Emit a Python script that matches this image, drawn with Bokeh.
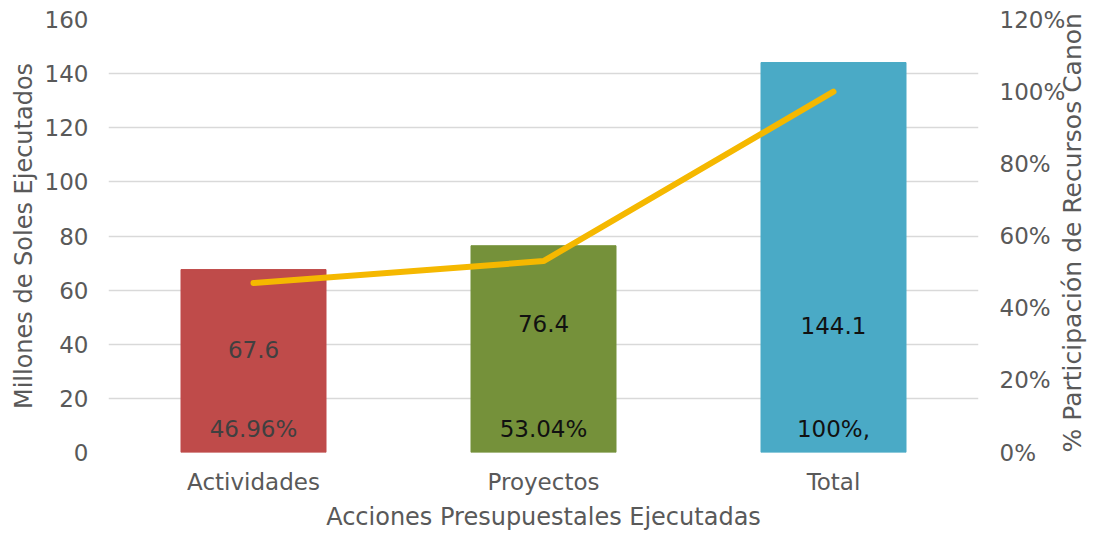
import math
from bokeh.plotting import figure
from bokeh.models import (Range1d, LinearAxis, FactorRange, ColumnDataSource,
                          FixedTicker, NumeralTickFormatter)
from bokeh.core.properties import value
from bokeh.embed import file_html
from bokeh.resources import INLINE

# ---- data ----
categories = ["Actividades", "Proyectos", "Total"]
soles = [67.6, 76.4, 144.1]
participacion = [0.4696, 0.5304, 1.0]
value_labels = ["67.6", "76.4", "144.1"]
pct_labels = ["46.96%", "53.04%", "100%,"]
bar_colors = ["#bf4b4a", "#75913a", "#4aaac6"]
label_colors = ["#404040", "#111111", "#111111"]

FONT = "DejaVu Sans"
TICK_COLOR = "#595959"

p = figure(x_range=FactorRange(*categories), y_range=Range1d(0, 160),
           width=1104, height=533, output_backend="svg", toolbar_location=None,
           min_border_left=108, min_border_right=126, min_border_top=19,
           min_border_bottom=77)
p.outline_line_color = None
p.background_fill_color = "white"

p.extra_y_ranges = {"pct": Range1d(0, 1.2)}

src = ColumnDataSource(dict(cat=categories, soles=soles, pct=participacion,
                            vl=value_labels, pl=pct_labels, color=bar_colors,
                            lc=label_colors,
                            vy=[38, 47.5, 47], py=[8.8, 8.8, 8.8]))

p.vbar(x="cat", top="soles", width=0.5, color="color", source=src)
p.line(x="cat", y="pct", y_range_name="pct", line_color="#f5b800",
       line_width=6, line_cap="round", source=src)

p.text(x="cat", y="vy", text="vl", text_color="lc", text_align="center",
       text_baseline="middle", text_font=value(FONT), text_font_size="23px",
       source=src)
p.text(x="cat", y="py", text="pl", text_color="lc", text_align="center",
       text_baseline="middle", text_font=value(FONT), text_font_size="23px",
       source=src)

# grid
p.xgrid.grid_line_color = None
p.ygrid.grid_line_color = "#d9d9d9"
p.ygrid.grid_line_width = 1.5
p.yaxis.ticker = FixedTicker(ticks=[0, 20, 40, 60, 80, 100, 120, 140, 160])

# left axis
yax = p.yaxis[0]
yax.axis_label = "Millones de Soles Ejecutados"
yax.axis_label_text_font = FONT
yax.axis_label_text_font_style = "normal"
yax.axis_label_text_font_size = "24px"
yax.axis_label_text_color = TICK_COLOR
yax.axis_label_standoff = 4
yax.major_label_text_font = FONT
yax.major_label_text_font_size = "23px"
yax.major_label_text_color = TICK_COLOR
yax.major_label_standoff = 14
yax.axis_line_color = None
yax.major_tick_line_color = None
yax.minor_tick_line_color = None

# right axis
rax = LinearAxis(y_range_name="pct",
                 ticker=FixedTicker(ticks=[0, 0.2, 0.4, 0.6, 0.8, 1.0, 1.2]),
                 formatter=NumeralTickFormatter(format="0%"))
rax.major_label_text_font = FONT
rax.major_label_text_font_size = "23px"
rax.major_label_text_color = TICK_COLOR
rax.major_label_standoff = 15
rax.axis_line_color = None
rax.major_tick_line_color = None
rax.minor_tick_line_color = None
rax.axis_label = "% Participación de Recursos Canon"
rax.axis_label_text_font = FONT
rax.axis_label_text_font_style = "normal"
rax.axis_label_text_font_size = "25px"
rax.axis_label_text_color = TICK_COLOR
rax.axis_label_standoff = 4
# reads bottom-to-top, starting at the bottom of the axis
rax.axis_label_orientation = math.pi / 2
if "axis_label_align" in rax.properties():
    rax.axis_label_align = "start"
p.add_layout(rax, "right")

# x axis
xax = p.xaxis[0]
xax.axis_label = "Acciones Presupuestales Ejecutadas"
xax.axis_label_text_font = FONT
xax.axis_label_text_font_style = "normal"
xax.axis_label_text_font_size = "24px"
xax.axis_label_text_color = TICK_COLOR
xax.axis_label_standoff = 5
xax.major_label_text_font = FONT
xax.major_label_text_font_size = "23px"
xax.major_label_text_color = TICK_COLOR
xax.major_label_standoff = 10
xax.axis_line_color = None
xax.major_tick_line_color = None
xax.minor_tick_line_color = None

open("out.html", "w").write(file_html(p, INLINE))
